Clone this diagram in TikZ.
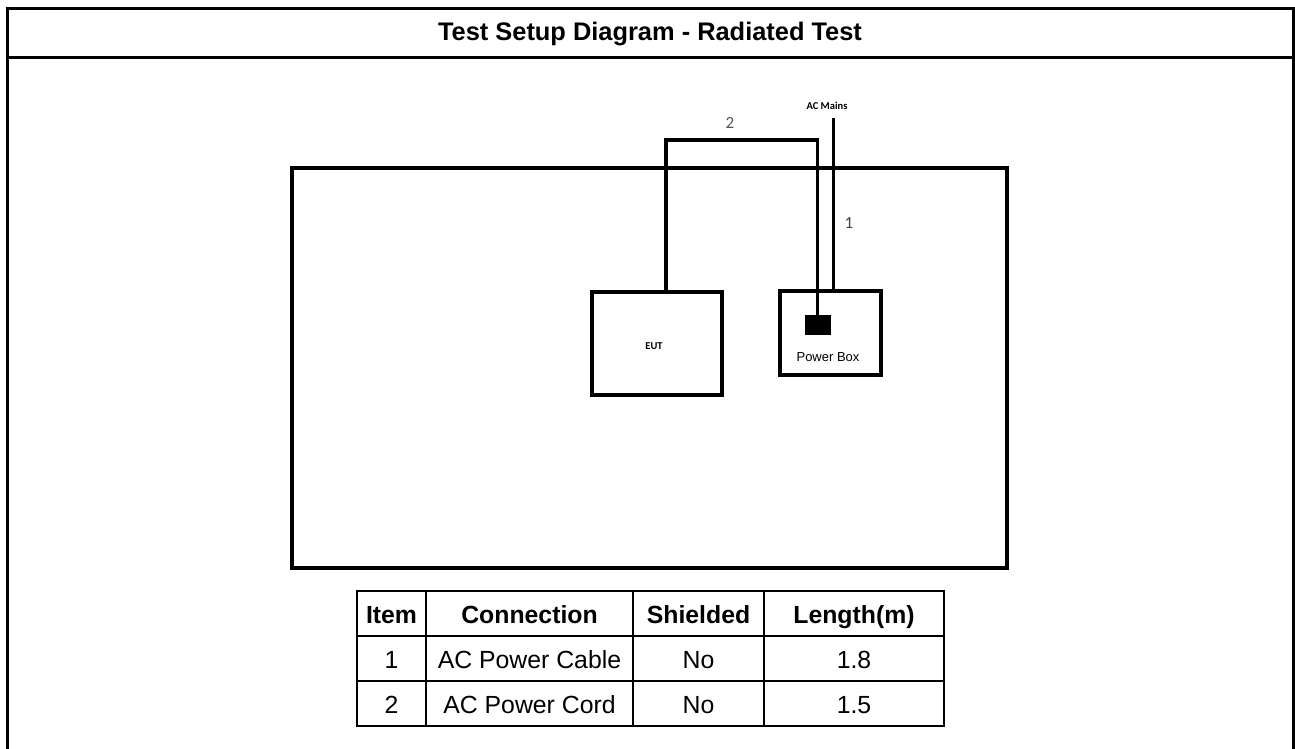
\documentclass[tikz,border=0pt]{standalone}
\usepackage{fontspec}
\setmainfont{Liberation Sans}
\newfontfamily\calib{Carlito}
\begin{document}
\begin{tikzpicture}[x=1pt,y=-1pt,
  frameline/.style={line width=3pt},
  boxline/.style={draw,line width=4pt,inner sep=0pt},
  cable/.style={line width=3.5pt},
  cell/.style={draw,line width=1.8pt,inner sep=0pt,text height=19.6pt,text depth=0pt,font=\fontsize{24.8}{28}\selectfont},
  hcell/.style={cell,font=\fontsize{24.8}{28}\selectfont\bfseries},
  small/.style={font=\calib\fontsize{10.5}{12}\selectfont\bfseries}
]
\useasboundingbox (0,0) rectangle (1295,749);
% outer frame (open at the bottom)
\draw[frameline] (7.5,749) -- (7.5,9) -- (1293.5,9) -- (1293.5,749);
\draw[line width=2.5pt] (7.5,57.5) -- (1293.5,57.5);
\node[font=\fontsize{25.4}{28}\selectfont\bfseries] (title) at (650,34) {Test Setup Diagram - Radiated Test};
% test area
\node[boxline,minimum width=715pt,minimum height=400pt] (area) at (649.5,368) {};
% EUT
\node[boxline,minimum width=130pt,minimum height=103pt] (eut) at (657,343.5) {};
\node[small] (eutlbl) at (654,346) {EUT};
% Power box
\node[boxline,minimum width=101pt,minimum height=84pt] (pbox) at (830.5,333) {};
\node[fill=black,inner sep=0pt,minimum width=26pt,minimum height=20pt] (plug) at (818,325) {};
\node[font=\fontsize{13}{15}\selectfont] (pblbl) at (828,357) {Power Box};
% cables
\coordinate (c2a) at (666,140);
\coordinate (c2b) at (817.5,140);
\coordinate (mains) at (833.5,118);
\draw[cable] (eut.north -| c2a) -- (c2a) -- (c2b) -- (plug.north -| c2b);
\draw[cable] (mains) -- (mains |- pbox.north);
\node[small] (mainslbl) at (827,106) {AC Mains};
\node[font=\calib\fontsize{17}{19}\selectfont,text={rgb,255:red,85;green,85;blue,85}] (lbl2) at (730,123) {2};
\node[font=\calib\fontsize{17}{19}\selectfont,text={rgb,255:red,40;green,75;blue,80}] (lbl1) at (849,223) {1};
% table
\node[hcell,minimum width=69pt,minimum height=45pt] (h1) at (391.5,613.5) {Item};
\node[hcell,minimum width=207pt,minimum height=45pt] (h2) at (529.5,613.5) {Connection};
\node[hcell,minimum width=131pt,minimum height=45pt] (h3) at (698.5,613.5) {Shielded};
\node[hcell,minimum width=180pt,minimum height=45pt] (h4) at (854,613.5) {Length(m)};
\node[cell,minimum width=69pt,minimum height=45pt] (a1) at (391.5,658.5) {1};
\node[cell,minimum width=207pt,minimum height=45pt] (a2) at (529.5,658.5) {AC Power Cable};
\node[cell,minimum width=131pt,minimum height=45pt] (a3) at (698.5,658.5) {No};
\node[cell,minimum width=180pt,minimum height=45pt] (a4) at (854,658.5) {1.8};
\node[cell,minimum width=69pt,minimum height=45pt] (b1) at (391.5,703.5) {2};
\node[cell,minimum width=207pt,minimum height=45pt] (b2) at (529.5,703.5) {AC Power Cord};
\node[cell,minimum width=131pt,minimum height=45pt] (b3) at (698.5,703.5) {No};
\node[cell,minimum width=180pt,minimum height=45pt] (b4) at (854,703.5) {1.5};
\end{tikzpicture}
\end{document}
